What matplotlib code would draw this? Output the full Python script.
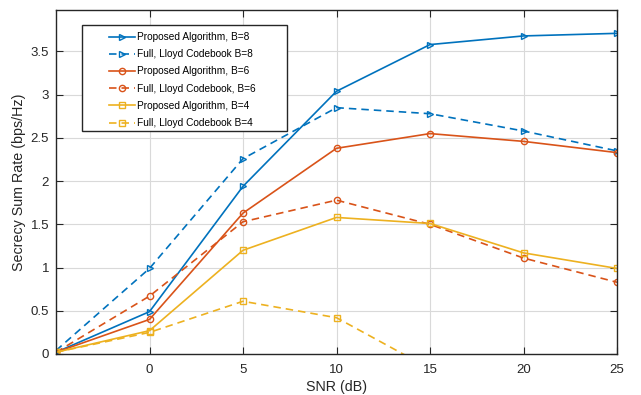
import matplotlib
matplotlib.use("Agg")
import matplotlib.pyplot as plt
from matplotlib.patches import Rectangle

# =============================================================================
# Data
# =============================================================================
snr = [-5, 0, 5, 10, 15, 20, 25]

prop_b8 = [0.02, 0.49, 1.94, 3.04, 3.58, 3.68, 3.71]
lloyd_b8 = [0.04, 0.99, 2.26, 2.85, 2.78, 2.58, 2.35]
prop_b6 = [0.02, 0.40, 1.63, 2.38, 2.55, 2.46, 2.33]
lloyd_b6 = [0.02, 0.67, 1.53, 1.78, 1.50, 1.11, 0.83]
prop_b4 = [0.02, 0.27, 1.20, 1.58, 1.51, 1.17, 0.99]
snr_lloyd_b4 = [-5, 0, 5, 10, 15]
lloyd_b4 = [0.02, 0.25, 0.61, 0.42, -0.17]

xticks = [0, 5, 10, 15, 20, 25]
yticks = [0, 0.5, 1, 1.5, 2, 2.5, 3, 3.5]
ytick_labels = ['0', '0.5', '1', '1.5', '2', '2.5', '3', '3.5']

blue = '#0072BD'
orange = '#D95319'
yellow = '#EDB120'
axcol = '#262626'

plt.rcParams['font.family'] = ['Liberation Sans', 'DejaVu Sans']

W, H = 641, 395
fig = plt.figure(figsize=(W / 100, H / 100), dpi=100)
fig.set_facecolor('w')
ax = fig.add_axes([56 / W, 1 - 354 / H, (617 - 56) / W, (354 - 10) / H])

dash = (0, (4.5, 3))
mk = dict(markersize=4.5, markerfacecolor='none', markeredgewidth=1.0, linewidth=1.2)
ax.plot(snr, prop_b8, color=blue, marker='>', linestyle='-', label='Proposed Algorithm, B=8', **mk)
ax.plot(snr, lloyd_b8, color=blue, marker='>', linestyle=dash, label='Full, Lloyd Codebook B=8', **mk)
ax.plot(snr, prop_b6, color=orange, marker='o', linestyle='-', label='Proposed Algorithm, B=6', **mk)
ax.plot(snr, lloyd_b6, color=orange, marker='o', linestyle=dash, label='Full, Lloyd Codebook, B=6', **mk)
ax.plot(snr, prop_b4, color=yellow, marker='s', linestyle='-', label='Proposed Algorithm, B=4', **mk)
ax.plot(snr_lloyd_b4, lloyd_b4, color=yellow, marker='s', linestyle=dash, label='Full, Lloyd Codebook B=4', **mk)

ax.set_xlim(-5, 25)
ax.set_ylim(0, 3.98)
ax.set_xticks(xticks)
ax.set_yticks(yticks)
ax.set_yticklabels(ytick_labels)
ax.grid(True, color='#d9d9d9', linewidth=0.8)
ax.set_axisbelow(True)
ax.tick_params(direction='in', top=True, right=True, length=5, width=0.8,
               colors=axcol, labelsize=9.5, labelcolor=axcol)
ax.tick_params(axis='x', pad=7)
ax.tick_params(axis='y', pad=5)
for sp in ax.spines.values():
    sp.set_color(axcol)
    sp.set_linewidth(1.0)

ax.set_xlabel('SNR (dB)', fontsize=10.3, color=axcol, labelpad=3)
ax.set_ylabel('Secrecy Sum Rate (bps/Hz)', fontsize=10.3, color=axcol, labelpad=3)

# legend box drawn by hand (MATLAB style padding)
box = Rectangle((82 / W, 1 - 131 / H), (287 - 82) / W, (131 - 25) / H,
                transform=fig.transFigure, facecolor='white',
                edgecolor=axcol, linewidth=1.0, zorder=4, clip_on=False)
ax.add_artist(box)
leg = ax.legend(loc='upper left', bbox_to_anchor=(104 / W, 1 - 27 / H),
                bbox_transform=fig.transFigure, fontsize=7.3, frameon=False,
                borderpad=0, handlelength=2.6, labelspacing=0.71, handletextpad=0.2)
leg.set_zorder(5)

plt.savefig('out.png', dpi=100)
